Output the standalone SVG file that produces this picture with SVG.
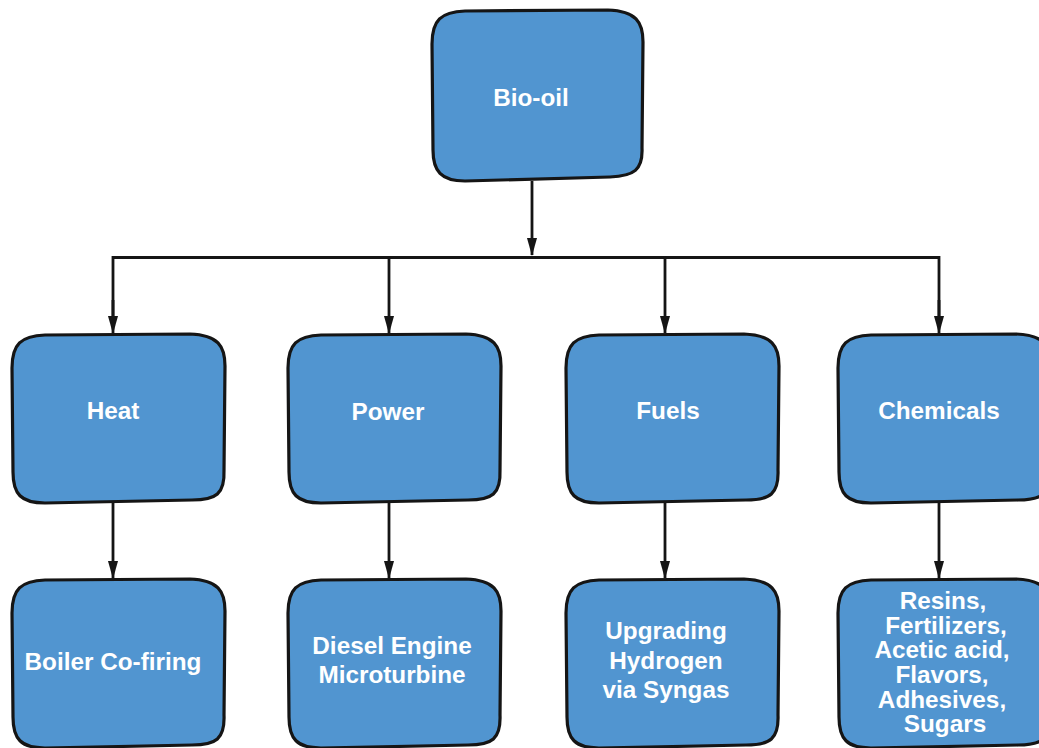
<svg xmlns="http://www.w3.org/2000/svg" width="1039" height="748" viewBox="0 0 1039 748">
<defs>
<style>
.box{fill:#5195d0;stroke:#151515;stroke-width:3.2;stroke-linejoin:round}
.t{fill:#ffffff;font-family:"Liberation Sans",Arial,Helvetica,sans-serif;font-weight:bold;font-size:24.3px;text-anchor:middle}
.c{fill:none;stroke:#151515;stroke-width:2.8}
</style>
<marker id="ah" markerWidth="18" markerHeight="10" refX="17" refY="5" orient="auto" markerUnits="userSpaceOnUse" viewBox="0 0 18 10">
<path d="M0,0 L18,5 L0,10 Z" fill="#151515"/>
</marker>
</defs>
<rect width="1039" height="748" fill="#ffffff"/>
<g id="connectors">
<path class="c" d="M532,181 V255" marker-end="url(#ah)"/>
<path class="c" d="M113,318 V257.5 H939 V318" />
<path class="c" d="M113,300 V333" marker-end="url(#ah)"/>
<path class="c" d="M389,258 V333" marker-end="url(#ah)"/>
<path class="c" d="M665,258 V333" marker-end="url(#ah)"/>
<path class="c" d="M939,300 V333" marker-end="url(#ah)"/>
<path class="c" d="M113,503 V578" marker-end="url(#ah)"/>
<path class="c" d="M389,503 V578" marker-end="url(#ah)"/>
<path class="c" d="M665,503 V578" marker-end="url(#ah)"/>
<path class="c" d="M939,503 V578" marker-end="url(#ah)"/>
</g>
<g id="bio-oil">
<path class="box" d="M465,11 L608,10 C636,11 643,22 643,42 L642,148 C643,170 634,176 610,177 L465,181 C441,181 433,171 433,150 L432,44 C432,20 441,12 465,11 Z"/>
<text class="t" x="531" y="106">Bio-oil</text>
</g>
<g id="heat">
<path class="box" d="M45,335 L190,334 C218,335 225,346 225,366 L224,470 C225,494 216,500 192,500 L45,503 C21,503 13,494 13,472 L12,368 C12,344 21,336 45,335 Z"/>
<text class="t" x="113" y="419">Heat</text>
</g>
<g id="power">
<path class="box" d="M321,335 L466,334 C494,335 501,346 501,366 L500,470 C501,494 492,500 468,500 L321,503 C297,503 289,494 289,472 L288,368 C288,344 297,336 321,335 Z"/>
<text class="t" x="388" y="420">Power</text>
</g>
<g id="fuels">
<path class="box" d="M599,335 L744,334 C772,335 779,346 779,366 L778,470 C779,494 770,500 746,500 L599,503 C575,503 567,494 567,472 L566,368 C566,344 575,336 599,335 Z"/>
<text class="t" x="668" y="419">Fuels</text>
</g>
<g id="chemicals">
<path class="box" d="M871,335 L1016,334 C1044,335 1051,346 1051,366 L1050,470 C1051,494 1042,500 1018,500 L871,503 C847,503 839,494 839,472 L838,368 C838,344 847,336 871,335 Z"/>
<text class="t" x="939" y="419">Chemicals</text>
</g>
<g id="boiler">
<path class="box" d="M45,580 L190,579 C218,580 225,591 225,611 L224,715 C225,739 216,745 192,745 L45,748 C21,748 13,739 13,717 L12,613 C12,589 21,581 45,580 Z"/>
<text class="t" x="113" y="670">Boiler Co-firing</text>
</g>
<g id="diesel">
<path class="box" d="M321,580 L466,579 C494,580 501,591 501,611 L500,715 C501,739 492,745 468,745 L321,748 C297,748 289,739 289,717 L288,613 C288,589 297,581 321,580 Z"/>
<text class="t" x="392" y="654">Diesel Engine</text>
<text class="t" x="392" y="683">Microturbine</text>
</g>
<g id="upgrading">
<path class="box" d="M599,580 L744,579 C772,580 779,591 779,611 L778,715 C779,739 770,745 746,745 L599,748 C575,748 567,739 567,717 L566,613 C566,589 575,581 599,580 Z"/>
<text class="t" x="666" y="639">Upgrading</text>
<text class="t" x="666" y="669">Hydrogen</text>
<text class="t" x="666" y="698">via Syngas</text>
</g>
<g id="chemical-products">
<path class="box" d="M871,580 L1016,579 C1044,580 1051,591 1051,611 L1050,715 C1051,739 1042,745 1018,745 L871,748 C847,748 839,739 839,717 L838,613 C838,589 847,581 871,580 Z"/>
<text class="t" x="943" y="609">Resins,</text>
<text class="t" x="946" y="634">Fertilizers,</text>
<text class="t" x="942" y="658">Acetic acid,</text>
<text class="t" x="942" y="683">Flavors,</text>
<text class="t" x="942" y="708">Adhesives,</text>
<text class="t" x="945" y="732">Sugars</text>
</g>
</svg>
